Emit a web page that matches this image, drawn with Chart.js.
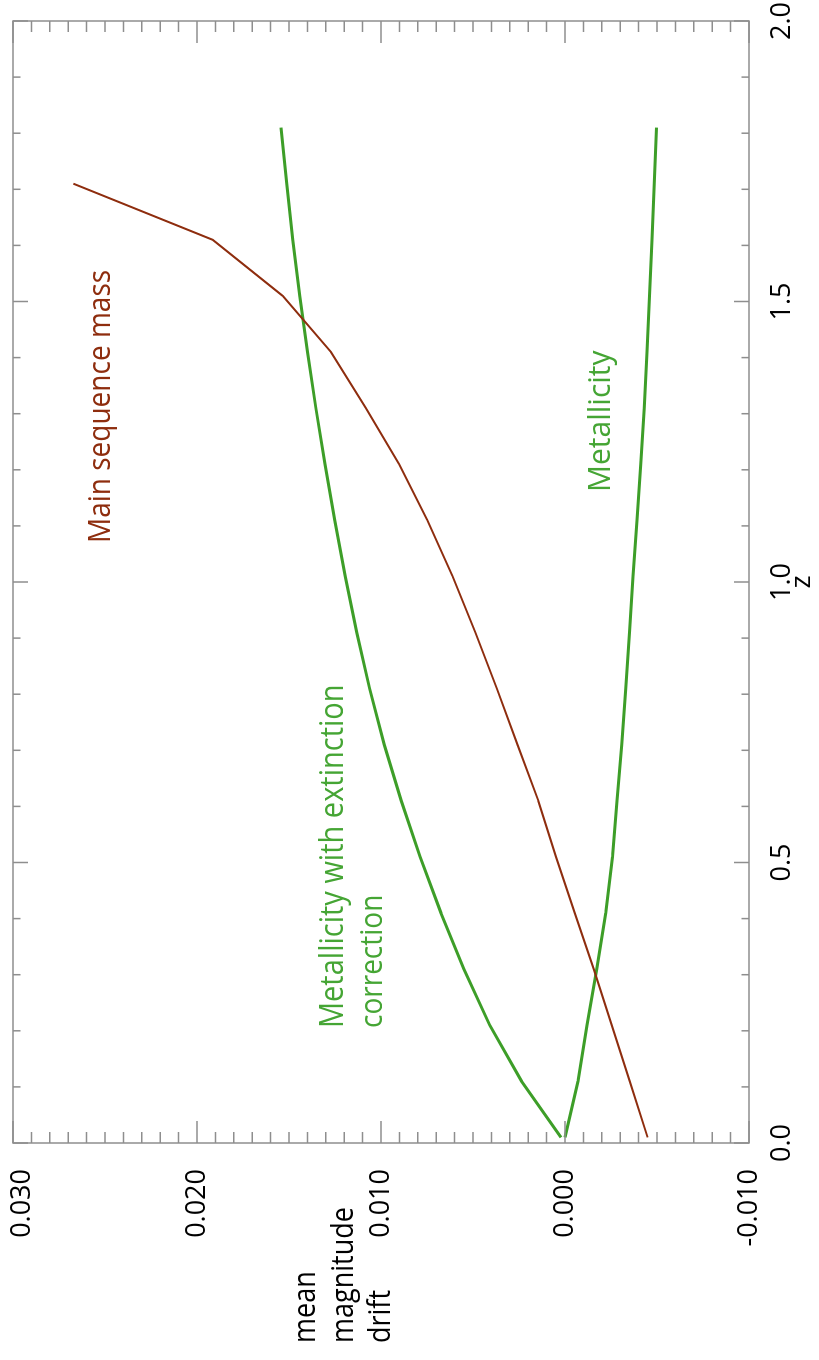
<!DOCTYPE html>
<html><head><meta charset="utf-8">
<script src="https://cdn.jsdelivr.net/npm/chart.js@4.4.1/dist/chart.umd.min.js"></script>
<style>
html,body{margin:0;padding:0;overflow:hidden;background:#fff;width:819px;height:1360px;}
#wrap{position:absolute;left:0;top:0;width:1360px;height:819px;transform-origin:0 0;transform:translateY(1360px) rotate(-90deg);}
canvas{display:block;}
</style></head><body>
<div id="wrap"><canvas id="c" width="1360" height="819"></canvas></div>
<script>
// redshift sample points
const zValues = [0.01,0.11,0.21,0.31,0.41,0.51,0.61,0.71,0.81,0.91,1.01,1.11,1.21,1.31,1.41,1.51,1.61,1.71,1.81];
// mean magnitude drift per model
const mainSequenceMass = [-0.00449,-0.00352,-0.00254,-0.00156,-0.00053,0.00049,0.00145,0.00258,0.00370,0.00487,0.00611,0.00748,0.00901,0.01082,0.01272,0.01534,0.01915,0.02672];
const metallicityExtinction = [0.00022,0.00236,0.00409,0.00550,0.00674,0.00787,0.00890,0.00982,0.01062,0.01132,0.01194,0.01251,0.01304,0.01354,0.01400,0.01442,0.01479,0.01512,0.01543];
const metallicity = [0.00000,-0.00071,-0.00120,-0.00172,-0.00222,-0.00258,-0.00282,-0.00308,-0.00330,-0.00350,-0.00370,-0.00391,-0.00412,-0.00431,-0.00446,-0.00459,-0.00473,-0.00485,-0.00497];
// axis ticks
const zTickValues = [0, 0.5, 1.0, 1.5, 2.0];
const zTickLabels = ['0.0','0.5','1.0','1.5','2.0'];
const driftTickValues = [-0.01, 0, 0.01, 0.02, 0.03];
const driftTickLabels = ['-0.010','0.000','0.010','0.020','0.030'];

const BROWN = '#8e2d0e';
const GREEN = '#3d9e28';
const GREEN_TEXT = '#45a534';
const FRAME = '#8e8e8e';
const FONT = "'Open Sans', 'DejaVu Sans', sans-serif";

function toXY(vals){ return vals.map((v,i)=>({x:zValues[i], y:v})); }

function tallText(ctx, text, x, y, sy){
  ctx.save();
  ctx.translate(x, y);
  ctx.scale(1, sy);
  ctx.fillText(text, 0, 0);
  ctx.restore();
}

const decorPlugin = {
  id:'decor',
  afterDraw(chart){
    const ctx = chart.ctx;
    const {left,right,top,bottom} = chart.chartArea;
    const xs = chart.scales.x, ys = chart.scales.y;
    ctx.save();
    ctx.strokeStyle = FRAME;
    ctx.lineWidth = 1.5;
    ctx.strokeRect(left, top, right-left, bottom-top);
    ctx.beginPath();
    for(let i=0;i<=20;i++){
      const px = xs.getPixelForValue(i/10);
      const len = (i%5===0) ? 15 : 7.5;
      ctx.moveTo(px, bottom); ctx.lineTo(px, bottom-len);
      ctx.moveTo(px, top); ctx.lineTo(px, top+len);
    }
    for(let i=-10;i<=30;i++){
      const py = ys.getPixelForValue(i/1000);
      const len = (i%10===0) ? 22 : 11;
      ctx.moveTo(left, py); ctx.lineTo(left+len, py);
      ctx.moveTo(right, py); ctx.lineTo(right-len, py);
    }
    ctx.stroke();

    // annotations
    ctx.textAlign = 'left';
    ctx.textBaseline = 'alphabetic';
    ctx.font = '28px ' + FONT;
    ctx.fillStyle = BROWN;
    tallText(ctx, 'Main sequence mass', xs.getPixelForValue(1.0695), ys.getPixelForValue(0.02473), 1.12);
    ctx.fillStyle = GREEN_TEXT;
    ctx.font = '30px ' + FONT;
    tallText(ctx, 'Metallicity', xs.getPixelForValue(1.1604), ys.getPixelForValue(-0.00245), 1.05);
    const ex = xs.getPixelForValue(0.205), ey = ys.getPixelForValue(0.01207);
    ctx.font = '29px ' + FONT;
    tallText(ctx, 'Metallicity with extinction', ex, ey, 1.1);
    ctx.font = '28px ' + FONT;
    tallText(ctx, 'correction', ex, ey + 39, 1.12);

    // y axis title (horizontal, three lines)
    ctx.fillStyle = '#000';
    ctx.font = '27px ' + FONT;
    tallText(ctx, 'mean', 17, 315, 1.15);
    tallText(ctx, 'magnitude', 17, 353, 1.15);
    tallText(ctx, 'drift', 17, 390, 1.15);
    ctx.restore();
  }
};

const lastDrift = driftTickLabels.length - 1;

new Chart(document.getElementById('c').getContext('2d'), {
  type:'line',
  data:{
    datasets:[
      {label:'Main sequence mass', data:toXY(mainSequenceMass), borderColor:BROWN, borderWidth:2, pointRadius:0, tension:0, fill:false},
      {label:'Metallicity with extinction correction', data:toXY(metallicityExtinction), borderColor:GREEN, borderWidth:3, pointRadius:0, tension:0, fill:false},
      {label:'Metallicity', data:toXY(metallicity), borderColor:GREEN, borderWidth:3, pointRadius:0, tension:0, fill:false}
    ]
  },
  options:{
    responsive:false, animation:false, devicePixelRatio:1,
    layout:{padding:{top:13,right:21,left:0,bottom:0}},
    plugins:{legend:{display:false}, tooltip:{enabled:false}},
    scales:{
      x:{
        type:'linear', min:0, max:2,
        afterBuildTicks(s){ s.ticks = zTickValues.map(v=>({value:v})); },
        afterFit(s){ s.height = 70; s.paddingLeft = 0; s.paddingRight = 0; },
        ticks:{callback:(v,i)=>zTickLabels[i], font:{family:FONT,size:27}, color:'#000', padding:9, maxRotation:0, autoSkip:false},
        grid:{display:false}, border:{display:false},
        title:{display:true, text:'z', font:{family:FONT,size:28}, color:'#000', padding:{top:0,bottom:0}}
      },
      y:{
        type:'linear', min:-0.01, max:0.03,
        afterBuildTicks(s){ s.ticks = driftTickValues.map(v=>({value:v})); },
        afterFit(s){ s.width = 217; s.paddingTop = 0; s.paddingBottom = 0; },
        ticks:{
          callback:(v,i)=> i === lastDrift ? ['', driftTickLabels[i]] : driftTickLabels[i],
          font:(c)=>({family:FONT, size:27, lineHeight: c.index === lastDrift ? '19px' : 1.2}),
          color:'#000', padding:18, autoSkip:false
        },
        grid:{display:false}, border:{display:false}
      }
    }
  },
  plugins:[decorPlugin]
});
</script>
</body></html>
